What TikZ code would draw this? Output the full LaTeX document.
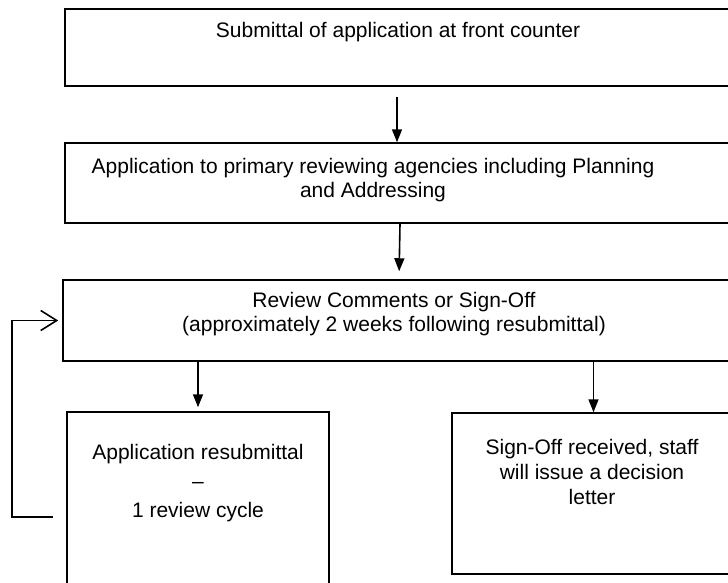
\documentclass[tikz,border=0pt]{standalone}
\usepackage{fontspec}
\setmainfont{Liberation Sans}
\usetikzlibrary{arrows.meta}

\tikzset{
	box/.style={draw, line width=1.5pt, rectangle, inner sep=0pt},
	txt/.style={align=center, inner sep=0pt, font=\fontsize{21}{24}\selectfont},
	flow/.style={line width=1.6pt, -{Triangle[length=13pt, width=10pt]}},
	back/.style={line width=1.6pt, -{Straight Barb[length=16pt, width=20pt, line width=1.6pt]}}
}

\begin{document}
\begin{tikzpicture}[x=1pt, y=-1pt]
		\useasboundingbox (0, 0) rectangle (728, 582);
		\clip (0, 0) rectangle (728, 582);
		
		% boxes
		\node[box, minimum width=670pt, minimum height=77pt] (submit) at (400, 47.5) {};
		\node[box, minimum width=670pt, minimum height=80pt] (apply) at (400, 183) {};
		\node[box, minimum width=672pt, minimum height=81pt] (review) at (399, 320.5) {};
		\node[box, minimum width=262pt, minimum height=208pt] (resub) at (198, 516) {};
		\node[box, minimum width=283pt, minimum height=161pt] (signoff) at (593.5, 493.5) {};
		
		% texts
		\node[txt] (submittxt) at (398, 32) {Submittal of application at front counter};
		\node[txt] (applytxt) at (373, 180) {Application to primary reviewing agencies including Planning\\and Addressing};
		\node[txt] (reviewtxt) at (394, 314) {Review Comments or Sign-Off\\(approximately 2 weeks following resubmittal)};
		\node[txt, font=\fontsize{21}{29}\selectfont] (resubtxt) at (198, 483) {Application resubmittal\\–\\1 review cycle};
		\node[txt, font=\fontsize{21}{25}\selectfont] (signofftxt) at (592, 472) {Sign-Off received, staff\\will issue a decision\\letter};
		
		% arrows
		\coordinate (start) at (397, 97);
		\draw[flow] (start) -- (start |- apply.north);
		\draw[flow, shorten >=8pt] (apply.south) -- (review.north);
		\draw[flow, shorten >=4pt] (review.south -| resub.north) -- (resub.north);
		\draw[flow] (review.south -| signoff.north) -- (signoff.north);
		
		% back to review
		\coordinate (loop) at (53, 517);
		\draw[back, shorten >=4pt] (loop) -- ++(-41, 0) |- (review.west);
	\end{tikzpicture}
\end{document}
